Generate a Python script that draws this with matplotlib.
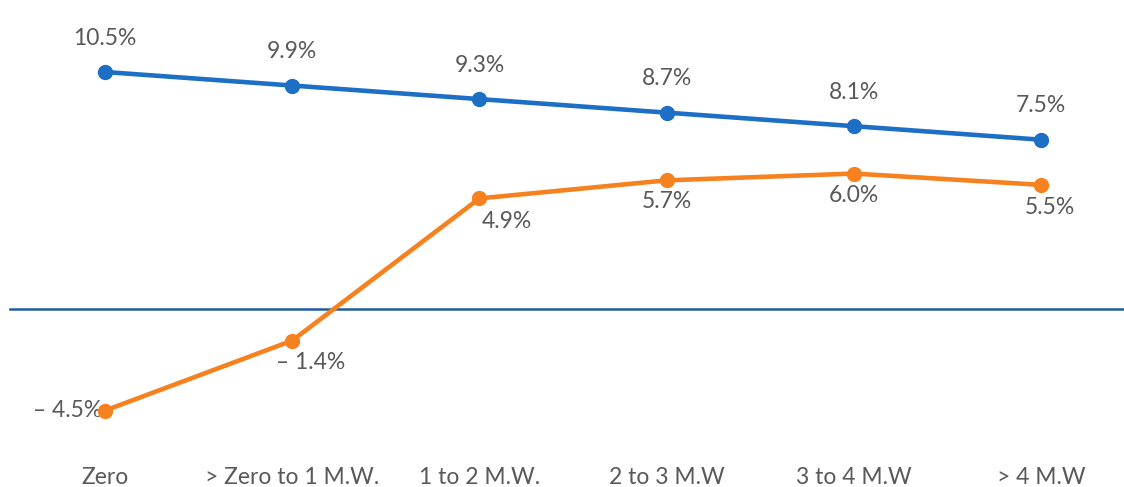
import numpy as np
import matplotlib.pyplot as plt

categories = ['Zero', '> Zero to 1 M.W.', '1 to 2 M.W.', '2 to 3 M.W', '3 to 4 M.W', '> 4 M.W']
blue_vals = [10.5, 9.9, 9.3, 8.7, 8.1, 7.5]
orange_vals = [-4.5, -1.4, 4.9, 5.7, 6.0, 5.5]

blue = '#1c6fc4'
orange = '#f6821f'
grey = '#595959'

plt.rcParams['font.family'] = ['Lato', 'DejaVu Sans']

fig = plt.figure(figsize=(11.24, 4.87), dpi=100)
ax = fig.add_axes([0, 0, 1, 1])
x = np.arange(len(categories))

ax.axhline(0, xmin=0.009, xmax=1, color='#1f5c9c', lw=1.8, zorder=1)
ax.plot(x, blue_vals, color=blue, lw=3.3, marker='o', ms=10, zorder=3)
ax.plot(x, orange_vals, color=orange, lw=3.3, marker='o', ms=10, zorder=3)


def fmt(v):
    if v < 0:
        return '\u2013 %.1f%%' % abs(v)
    return '%.1f%%' % v


fs = 16.5
for i, v in enumerate(blue_vals):
    ax.annotate(fmt(v), (i, v), xytext=(0, 34), textcoords='offset pixels',
                ha='center', va='center', fontsize=fs, color=grey)

# orange labels: first one to the left, rest below
orange_offsets = [(-37, 0), (18, -22), (27, -23), (0, -21), (0, -22), (9, -23)]
for i, v in enumerate(orange_vals):
    dx, dy = orange_offsets[i]
    ax.annotate(fmt(v), (i, v), xytext=(dx, dy), textcoords='offset pixels',
                ha='center', va='center', fontsize=fs, color=grey, zorder=2)

for i, c in enumerate(categories):
    ax.text(i, 0.02, c, transform=ax.get_xaxis_transform(), ha='center', va='center',
            fontsize=fs, color=grey)

ax.set_xlim(-0.561, 5.443)
ax.set_ylim(-7.886, 13.69)
ax.axis('off')

fig.savefig('out.png', dpi=100, facecolor='white')
